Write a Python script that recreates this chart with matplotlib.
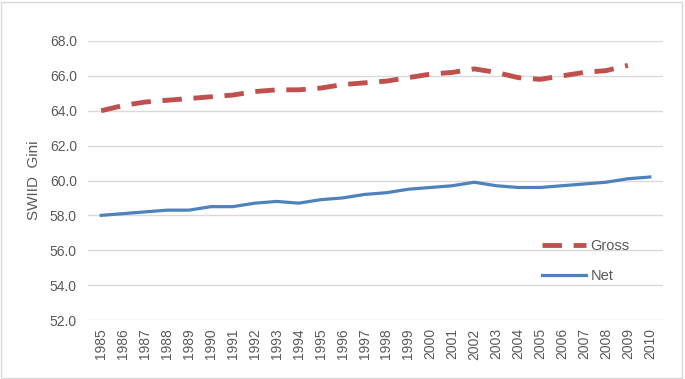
import matplotlib.pyplot as plt
from matplotlib.patches import Rectangle

years = list(range(1985, 2011))
gross = [64.0, 64.3, 64.5, 64.6, 64.7, 64.8, 64.9, 65.1, 65.2, 65.2,
         65.3, 65.5, 65.6, 65.7, 65.9, 66.1, 66.2, 66.4, 66.2, 65.9,
         65.8, 66.0, 66.2, 66.3, 66.6]
net = [58.0, 58.1, 58.2, 58.3, 58.3, 58.5, 58.5, 58.7, 58.8, 58.7,
       58.9, 59.0, 59.2, 59.3, 59.5, 59.6, 59.7, 59.9, 59.7, 59.6,
       59.6, 59.7, 59.8, 59.9, 60.1, 60.2]

plt.rcParams['font.family'] = ['Liberation Sans', 'DejaVu Sans']
txt = "#595959"

fig = plt.figure(figsize=(6.85, 3.79), dpi=100)
ax = fig.add_axes([88 / 685, 1 - 320 / 379, 575 / 685, 279 / 379])

ax.plot(years[:len(gross)], gross, color="#C0504D", linewidth=3.5,
        linestyle=(0, (4, 2.4)), label="Gross")
ax.plot(years, net, color="#4F81BD", linewidth=2.3, label="Net")

ax.set_ylim(52, 68)
ax.set_xlim(1984.4, 2010.6)
ax.set_yticks([52, 54, 56, 58, 60, 62, 64, 66, 68])
ax.set_yticklabels(["%.1f" % v for v in ax.get_yticks()])
ax.set_xticks(years)
ax.set_xticklabels([str(y) for y in years], rotation=90)
ax.tick_params(axis='both', length=0, colors=txt, labelsize=10)
ax.tick_params(axis='x', pad=6)
ax.tick_params(axis='y', pad=8)
ax.grid(axis='y', color="#d9d9d9", linewidth=1)
ax.set_axisbelow(True)
for s in ax.spines.values():
    s.set_visible(False)

ax.set_ylabel("SWIID  Gini", color=txt, fontsize=11, labelpad=6)

leg = ax.legend(loc='center left', bbox_to_anchor=(0.79, 0.21), frameon=False,
                handlelength=3.0, handletextpad=0.3, labelspacing=1.1,
                fontsize=10.5, borderpad=0, borderaxespad=0)
for t in leg.get_texts():
    t.set_color(txt)

fig.patches.append(Rectangle((0.002, 0.003), 0.994, 0.992, transform=fig.transFigure,
                             fill=False, edgecolor="#d9d9d9", linewidth=1))

plt.savefig("out.png", dpi=100)
